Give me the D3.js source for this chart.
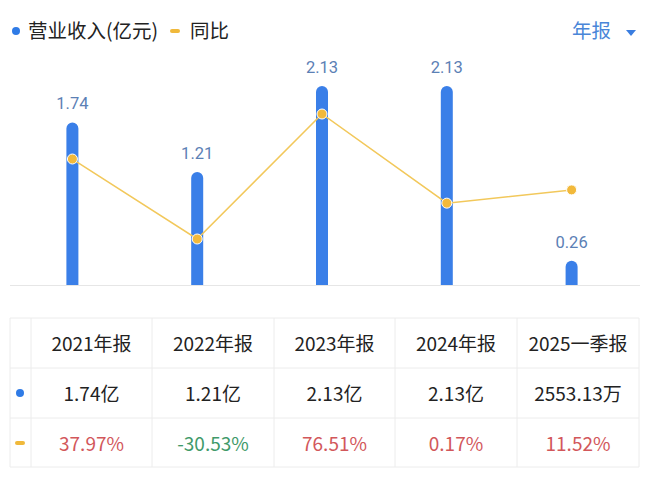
<!DOCTYPE html><html><head><meta charset="utf-8"><script src="https://cdn.jsdelivr.net/npm/d3@7"></script>
<style>body{margin:0;background:#fff;font-family:"Noto Sans CJK SC","Noto Sans",sans-serif}</style></head><body><svg id="c" width="660" height="481"></svg>
<script>
const categories=["2021年报","2022年报","2023年报","2024年报","2025一季报"];
const revenue=[1.74,1.21,2.13,2.13,0.26];
const revenueText=["1.74亿","1.21亿","2.13亿","2.13亿","2553.13万"];
const yoy=[37.97,-30.53,76.51,0.17,11.52];
const yoyText=["37.97%","-30.53%","76.51%","0.17%","11.52%"];
const svg=d3.select("#c");
const x=d3.scaleBand().domain(categories).range([10,634]).padding(0);
const y=d3.scaleLinear().domain([0,2.13]).range([285,86]);
const y2=d3.scaleLinear().domain([-30.53,76.51]).range([239,114]);
const font='"Noto Sans CJK SC",sans-serif';
svg.append("circle").attr("cx",16).attr("cy",31).attr("r",4).attr("fill","#2f7be6");
svg.append("text").attr("x",28).attr("y",38).attr("font-size",19.5).attr("fill","#222").attr("font-family",font).text("营业收入(亿元)");
svg.append("rect").attr("x",170).attr("y",29).attr("width",10).attr("height",4).attr("rx",2).attr("fill","#f0b93b");
svg.append("text").attr("x",190).attr("y",38).attr("font-size",19.5).attr("fill","#222").attr("font-family",font).text("同比");
svg.append("text").attr("x",572).attr("y",38).attr("font-size",19.5).attr("fill","#4a86d8").attr("font-family",font).text("年报");
svg.append("path").attr("d","M626,30 L636,30 L631,36 Z").attr("fill","#3a7de0");
svg.append("line").attr("x1",10).attr("x2",640).attr("y1",285.5).attr("y2",285.5).attr("stroke","#e6e6e6");
const cx=d=>x(d)+x.bandwidth()/2;
svg.selectAll(".bar").data(revenue).join("path").attr("fill","#3a7fe8").attr("d",(v,i)=>{
 const c=cx(categories[i]),w=12,t=y(v),b=y(0),r=6;
 return `M${c-w/2},${b}V${t+r}A${r},${r} 0 0 1 ${c+w/2},${t+r}V${b}Z`;});
svg.selectAll(".bl").data(revenue).join("text").attr("x",(v,i)=>cx(categories[i])).attr("y",v=>y(v)-13)
 .attr("text-anchor","middle").attr("font-size",16.5).attr("fill","#5b80b5").attr("font-family","Roboto,sans-serif").text(v=>v.toFixed(2));
const line=d3.line().x((v,i)=>cx(categories[i])).y(v=>y2(v));
svg.append("path").datum(yoy).attr("d",line).attr("fill","none").attr("stroke","#f2c85b").attr("stroke-width",1.5);
svg.selectAll(".pt").data(yoy).join("circle").attr("cx",(v,i)=>cx(categories[i])).attr("cy",v=>y2(v)).attr("r",5).attr("fill","#f2b93b").attr("stroke","#fff").attr("stroke-width",1);
const cols=[10,31,152,274,395,517,639], rows=[318,368,418,467];
const g=svg.append("g").attr("stroke","#ececec").attr("fill","none");
cols.forEach(c=>g.append("line").attr("x1",c).attr("x2",c).attr("y1",318).attr("y2",467));
rows.forEach(r=>g.append("line").attr("x1",10).attr("x2",639).attr("y1",r).attr("y2",r));
const tc=i=>(cols[i+1]+cols[i+2])/2;
categories.forEach((c,i)=>svg.append("text").attr("x",tc(i)).attr("y",351).attr("text-anchor","middle").attr("font-size",19).attr("fill","#222").attr("font-family",font).text(c));
revenueText.forEach((c,i)=>svg.append("text").attr("x",tc(i)).attr("y",401).attr("text-anchor","middle").attr("font-size",19).attr("fill","#222").attr("font-family",font).text(c));
yoyText.forEach((c,i)=>svg.append("text").attr("x",tc(i)).attr("y",451).attr("text-anchor","middle").attr("font-size",19).attr("fill",yoy[i]<0?"#3f9a6a":"#d2575b").attr("font-family",font).text(c));
svg.append("circle").attr("cx",20).attr("cy",393).attr("r",4).attr("fill","#2f7be6");
svg.append("rect").attr("x",15).attr("y",441).attr("width",10).attr("height",4).attr("rx",2).attr("fill","#f0b93b");
</script></body></html>
